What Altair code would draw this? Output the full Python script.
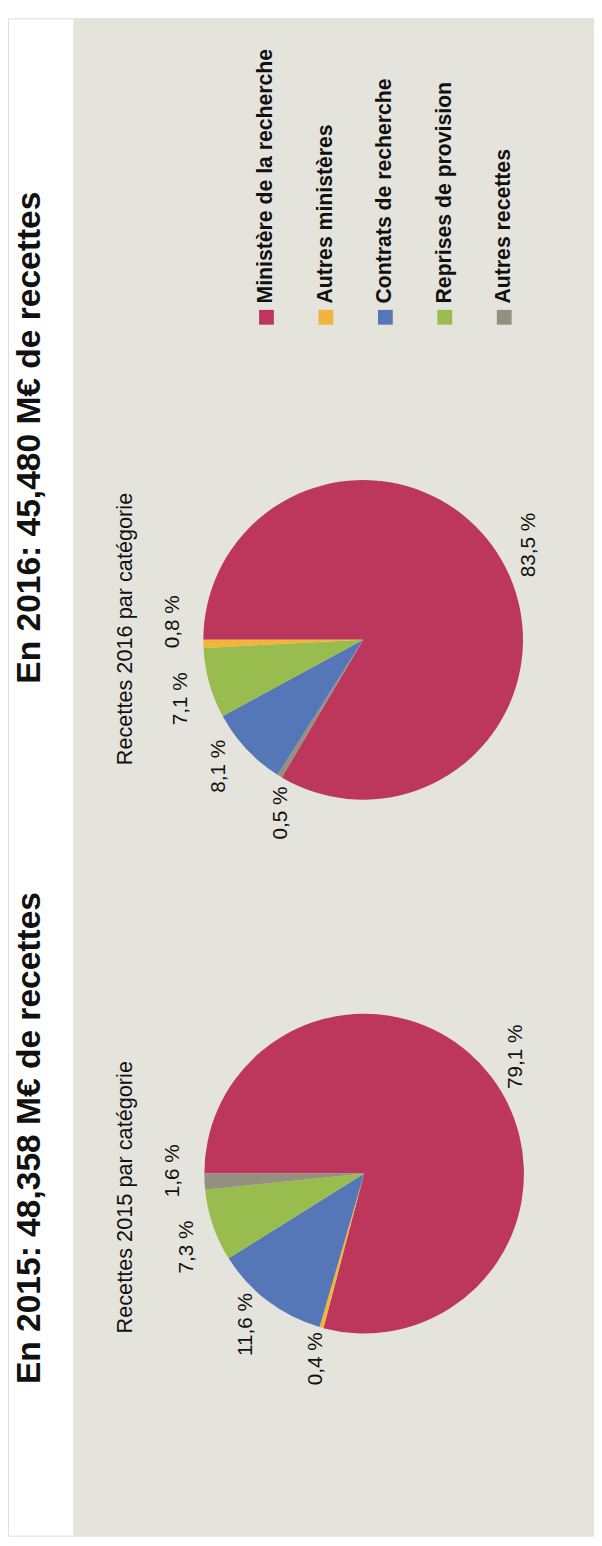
import math
import altair as alt
import pandas as pd

# ---- data ----
categories = ["Ministère de la recherche", "Autres ministères", "Contrats de recherche",
              "Reprises de provision", "Autres recettes"]
values_2015 = [79.1, 0.4, 11.6, 7.3, 1.6]
values_2016 = [83.5, 0.8, 8.1, 7.1, 0.5]
stack_order_2015 = [0, 1, 2, 3, 4]
stack_order_2016 = [0, 4, 2, 3, 1]
colors = ["#BD375C", "#F3B43C", "#5577B8", "#98BC4E", "#958F80"]
titles = ["En 2016: 45,480 M€ de recettes", "En 2015: 48,358 M€ de recettes"]
subtitles = ["Recettes 2016 par catégorie", "Recettes 2015 par catégorie"]


def fr(v):
    return f"{v:.1f}".replace(".", ",") + " %"


def build(values, order):
    df = pd.DataFrame({"category": categories, "value": values, "ord": order,
                       "label": [fr(v) for v in values]})
    df = df.sort_values("ord").reset_index(drop=True)
    start = df["value"].cumsum() - df["value"]
    pos = list(start + df["value"] / 2)
    # simple label spreading so neighbouring labels do not collide
    n, gap = len(pos), 6.5
    for _ in range(60):
        for i in range(n):
            j = (i + 1) % n
            b = pos[j] + (100 if j == 0 else 0)
            d = b - pos[i]
            if d < gap:
                p = (gap - d) / 2
                pos[i] -= p
                pos[j] += p
    df["lpos"] = pos
    return df


df15 = build(values_2015, stack_order_2015)
df16 = build(values_2016, stack_order_2016)
dfleg = pd.DataFrame({"category": categories})

FONT = "Liberation Sans, Arial, sans-serif"
color_scale = alt.Scale(domain=categories, range=colors)
theta_scale = alt.Scale(domain=[0, 100], range=[1.5 * math.pi, 3.5 * math.pi])

panel = alt.Chart(pd.DataFrame({"a": [0]})).mark_rect(color="#E4E4DC").encode(
    x=alt.value(66), x2=alt.value(594), y=alt.value(0), y2=alt.value(1538))


def pie(df, cx, cy):
    arcs = alt.Chart(df).mark_arc(outerRadius=162, x=cx, y=cy).encode(
        theta=alt.Theta("value:Q", stack=True, scale=theta_scale),
        order=alt.Order("ord:Q"),
        color=alt.Color("category:N", scale=color_scale, legend=None))
    labels = alt.Chart(df).mark_text(radius=194, x=cx, y=cy, angle=270, font=FONT,
                                     fontSize=21, color="#111111", align="center",
                                     baseline="middle").encode(
        theta=alt.Theta("lpos:Q", stack=None, scale=theta_scale),
        text="label:N")
    return arcs + labels


pie16 = pie(df16, 360, 630)
pie15 = pie(df15, 361, 1171)


def txt(s, x, y, size, weight):
    return alt.Chart(pd.DataFrame({"t": [s]})).mark_text(
        angle=270, font=FONT, fontSize=size, fontWeight=weight, color="#111111",
        align="center", baseline="middle").encode(text="t:N", x=alt.value(x), y=alt.value(y))


t16 = txt(titles[0], 22, 425, 34, "bold")
t15 = txt(titles[1], 22, 1135, 34, "bold")
s16 = txt(subtitles[0], 119, 619, 22, "normal")
s15 = txt(subtitles[1], 119, 1195, 22, "normal")

leg_x = alt.X("category:N", scale=alt.Scale(type="point", domain=categories,
                                             range=[262, 503], padding=0), axis=None)
leg_sq = alt.Chart(dfleg).mark_square(size=225, opacity=1).encode(
    x=leg_x, y=alt.value(303),
    color=alt.Color("category:N", scale=color_scale, legend=None))
leg_tx = alt.Chart(dfleg).mark_text(angle=270, font=FONT, fontSize=21.5, fontWeight="bold",
                                    color="#111111", align="left", baseline="middle").encode(
    x=leg_x, y=alt.value(289), text="category:N")

chart = alt.layer(panel, pie16, pie15, t16, t15, s16, s15, leg_sq, leg_tx).properties(
    width=594, height=1538,
    autosize=alt.AutoSizeParams(type="none"), padding=0,
).configure_view(stroke=None).configure(background="white")

chart.save("out.html", embed_options={"renderer": "svg", "actions": False})
